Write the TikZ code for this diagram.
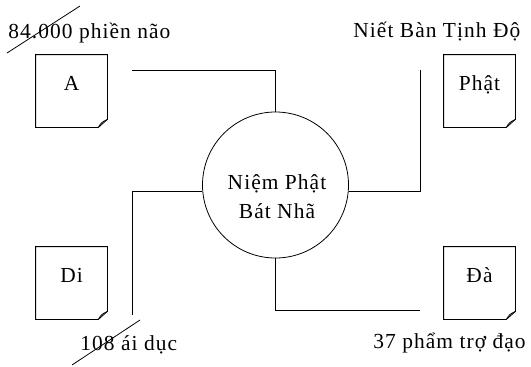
\documentclass[tikz,border=0pt]{standalone}
\usepackage{fontspec}
\setmainfont{Liberation Serif}[LetterSpace=5]
\begin{document}
\begin{tikzpicture}[x=1bp, y=-1bp, line width=0.8pt,
    note/.style={minimum width=71bp, minimum height=72bp, inner sep=0pt},
    label/.style={font=\fontsize{21.5}{29}\selectfont, inner sep=0pt}]
    \useasboundingbox (0,0) rectangle (531,366);

    % center circle
    \node [circle, draw, minimum size=146bp] (niem) at (275.5,185) {};
    \node [label, align=center] (niemtext) at (277,197) {Niệm Phật\\ Bát Nhã};

    % the four notes
    \begin{scope}[every node/.style={note}]
      \node (a) at (71.5,91) {}; \node (phat) at (479.5,91) {};
      \node (di) at (71.5,283) {}; \node (da) at (479.5,283) {};
    \end{scope}
    \foreach \n/\t in {a/A, phat/Phật, di/Di, da/Đà} {
      \draw (\n.north west) -- (\n.north east) -- ([yshift=8bp]\n.south east)
        -- ([xshift=-9bp]\n.south east) -- (\n.south west) -- cycle;
      \draw ([yshift=8bp]\n.south east) .. controls ([xshift=-6bp,yshift=5bp]\n.south east)
        .. ([xshift=-9bp]\n.south east);
      \node [label, anchor=base] at ([yshift=-36bp]\n.north) {\t};
    }

    % captions
    \node [label, anchor=base west] (phien) at (8,38) {84.000 phiền não};
    \node [label, anchor=base west] (niet) at (353,37) {Niết Bàn Tịnh Độ};
    \node [label, anchor=base west] (ai) at (80,350) {108 ái dục};
    \node [label, anchor=base west] (pham) at (373,348) {37 phẩm trợ đạo};

    % connectors
    \coordinate (a1) at (132,70); \coordinate (p1) at (420,70);
    \coordinate (d1) at (132,315); \coordinate (e1) at (420,310);
    \draw (a1) -| (niem.north);
    \draw (p1) |- (niem.-5);
    \draw (d1) |- (niem.185);
    \draw (e1) -| (niem.south);

    % strike lines
    \coordinate (s1) at (7,53); \coordinate (s2) at (80,6);
    \coordinate (s3) at (72,365); \coordinate (s4) at (140,320);
    \draw (s1) -- (s2);
    \draw (s3) -- (s4);
\end{tikzpicture}
\end{document}
